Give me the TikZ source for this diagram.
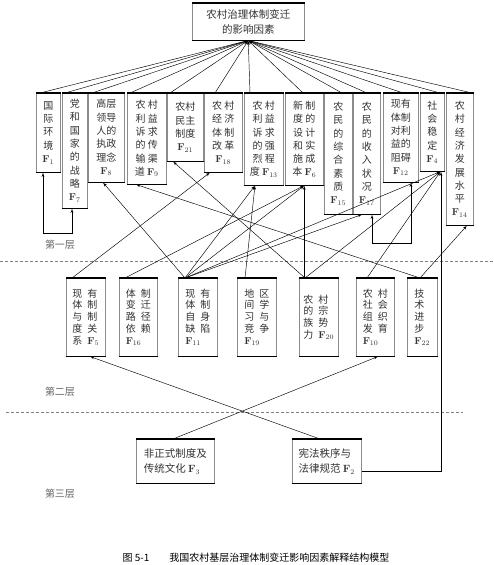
\documentclass[tikz,border=0pt]{standalone}
\usepackage{fontspec}
\usepackage{tikz}
\usetikzlibrary{arrows}
\usetikzlibrary{calc}
\newfontfamily\cjk{Noto Sans CJK SC}
\newcommand{\fid}[1]{{\normalfont\bfseries F}$_{#1}$}
\newcommand{\gp}{\hspace{5pt}}

\begin{document}
\begin{tikzpicture}[x=1pt,y=-1pt,
  factor/.style={draw=black!45, line width=0.5pt, anchor=north west, inner sep=1pt, align=center,
    text=black!80, font=\cjk\fontsize{10}{13.3}\selectfont},
  lowfactor/.style={factor, align=left, font=\cjk\fontsize{10}{11.8}\selectfont},
  arr/.style={-latex', line width=0.45pt},
  layer/.style={text=black!60, font=\cjk\fontsize{10}{12}\selectfont},
  cut/.style={densely dashed, black!50, line width=0.4pt}]
\useasboundingbox[fill=white] (0,0) rectangle (494,565);
%top
\node[factor, align=center, minimum width=112pt, minimum height=37pt, font=\cjk\fontsize{10.5}{15}\selectfont] (top) at (192,3) {农村治理体制变迁\\的影响因素};
%first layer
\node[factor, minimum width=24pt, minimum height=79pt] (f1) at (36,93) {国\\际\\环\\境\\\fid{1}};
\node[factor, minimum width=25pt, minimum height=115pt] (f7) at (62,93) {党\\和\\国\\家\\的\\战\\略\\\fid{7}};
\node[factor, minimum width=36pt, minimum height=89pt] (f8) at (88,93) {高层\\领导\\人的\\执政\\理念\\\fid{8}};
\node[factor, minimum width=39pt, minimum height=91pt] (f9) at (127,93) {农 村\\利 益\\诉 求\\的 传\\输 渠\\道 \fid{9}};
\node[factor, minimum width=36pt, minimum height=68pt] (f21) at (167,93) {农村\\民主\\制度\\\fid{21}};
\node[factor, minimum width=38pt, minimum height=79pt] (f18) at (204,93) {农 村\\经 济\\体 制\\改 革\\\fid{18}};
\node[factor, minimum width=39pt, minimum height=92pt] (f13) at (244,93) {农 村\\利 益\\诉 求\\的 强\\烈 程\\度 \fid{13}};
\node[factor, minimum width=38pt, minimum height=92pt] (f6) at (285,93) {新 制\\度 的\\设 计\\和 实\\施 成\\本 \fid{6}};
\node[factor, minimum width=28pt, minimum height=121pt] (f15) at (324,93) {农\\民\\的\\综\\合\\素\\质\\\fid{15}};
\node[factor, minimum width=27pt, minimum height=121pt] (f17) at (353,93) {农\\民\\的\\收\\入\\状\\况\\\fid{17}};
\node[factor, minimum width=35pt, minimum height=89pt] (f12) at (383,93) {现有\\体制\\对利\\益的\\阻碍\\\fid{12}};
\node[factor, minimum width=24pt, minimum height=78pt] (f4) at (420,93) {社\\会\\稳\\定\\\fid{4}};
\node[factor, minimum width=27pt, minimum height=132pt] (f14) at (446,93) {农\\村\\经\\济\\发\\展\\水\\平\\\fid{14}};
%second layer
\node[lowfactor, minimum width=39pt, minimum height=78pt] (f5) at (66,278) {现\gp 有\\体\gp 制\\与\gp 制\\度\gp 关\\系\gp \fid{5}};
\node[lowfactor, minimum width=38pt, minimum height=78pt] (f16) at (119,278) {体\gp 制\\变\gp 迁\\路\gp 径\\依\gp 赖\\\fid{16}};
\node[lowfactor, minimum width=39pt, minimum height=78pt] (f11) at (178,278) {现\gp 有\\体\gp 制\\自\gp 身\\缺\gp 陷\\\fid{11}};
\node[lowfactor, minimum width=39pt, minimum height=78pt] (f19) at (237,278) {地\gp 区\\间\gp 学\\习\gp 与\\竞\gp 争\\\fid{19}};
\node[lowfactor, minimum width=39pt, minimum height=78pt] (f20) at (299,278) {农\gp 村\\的\gp 宗\\族\gp 势\\力\gp \fid{20}};
\node[lowfactor, minimum width=38pt, minimum height=78pt] (f10) at (356,278) {农\gp 村\\社\gp 会\\组\gp 织\\发\gp 育\\\fid{10}};
\node[lowfactor, minimum width=30pt, minimum height=78pt] (f22) at (407,278) {技\\术\\进\\步\\\fid{22}};
%third layer
\node[factor, align=left, minimum width=78pt, minimum height=44pt, font=\cjk\fontsize{10.5}{15}\selectfont] (f3) at (136,439) {非正式制度及\\传统文化 \fid{3}};
\node[factor, align=left, minimum width=69pt, minimum height=44pt, font=\cjk\fontsize{10.5}{15}\selectfont] (f2) at (292,439) {宪法秩序与\\法律规范 \fid{2}};
\foreach \n in {top,f1,f7,f8,f9,f21,f18,f13,f6,f15,f17,f12,f4,f14,f5,f16,f11,f19,f20,f10,f22,f3,f2}
  \draw[line width=1.4pt] (\n.north west) -- (\n.north east) (\n.south west) -- (\n.south east);
%layers
\node[layer] (l1) at (60,245) {第一层};
\node[layer] (l2) at (60,392) {第二层};
\node[layer] (l3) at (60,494) {第三层};
\coordinate (c1) at (0,261);
\coordinate (c2) at (494,261);
\coordinate (c3) at (6,412);
\coordinate (c4) at (463,412);
\draw[cut] (c1) -- (c2);
\draw[cut] (c3) -- (c4);
%to the top
\foreach \n/\d in {f1/4,f7/3,f8/4,f9/3,f21/3,f18/11,f13/6,f6/18,f15/18,f17/14,f12/20,f4/20,f14/26}
  \draw[arr] ([xshift=\d pt]\n.north west) -- (top.south);
%second layer to first layer
\draw[arr] ([xshift=7pt]f11.north west) -- ([xshift=15pt]f8.south west);
\draw[arr] ([xshift=7pt]f11.north west) -- ([xshift=11pt]f13.south west);
\draw[arr] ([xshift=7pt]f11.north west) -- (f6.south);
\draw[arr] ([xshift=7pt]f11.north west) -- ([xshift=9pt]f17.south west);
\draw[arr] ([xshift=7pt]f11.north west) -- ([xshift=-4pt]f4.south east);
\draw[arr] ([xshift=8pt]f19.north west) -- ([xshift=11pt]f13.south west);
\draw[arr] ([xshift=13pt]f22.north west) -- ([xshift=9pt]f9.south west);
\draw[arr] ([xshift=13pt]f22.north west) -- ([xshift=21pt]f14.south west);
\draw[arr] ([xshift=6pt]f5.north west) -- ([xshift=6pt]f18.south west);
\draw[arr] ([xshift=6pt]f16.north west) -- (f6.south);
\draw[arr] ([xshift=6pt]f20.north west) -- ([xshift=6pt]f21.south west);
\draw[arr] (f6.south |- f20.north) -- (f6.south);
\draw[arr] ([xshift=6pt]f20.north west) -- ([xshift=-4pt]f4.south east);
\draw[arr] ([xshift=11pt]f10.north west) -- ([xshift=-4pt]f4.south east);
%loops
\coordinate (k1) at (43,233);
\coordinate (k2) at (72,233);
\draw[latex'-latex', line width=0.45pt] ([xshift=7pt]f1.south west) -- (k1) -- (k2) -- ([xshift=10pt]f7.south west);
\coordinate (k3) at (372,243);
\coordinate (k4) at (411,243);
\draw[latex'-latex', line width=0.45pt] ([xshift=19pt]f17.south west) -- (k3) -- (k4) -- ([xshift=28pt]f12.south west);
%third layer up
\draw[arr] ([xshift=37pt]f3.north west) -- ([xshift=22pt]f10.south west);
\draw[arr] ([xshift=28pt]f2.north west) -- ([xshift=24pt]f5.south west);
\coordinate (k5) at (441,471);
\draw[arr] (k5 -| f2.east) -- (k5) -- (k5 |- f4.south);
%caption
\node[font=\cjk\fontsize{10}{12}\selectfont] (cap) at (256,558) {图 5-1\quad\quad 我国农村基层治理体制变迁影响因素解释结构模型};
\end{tikzpicture}
\end{document}
